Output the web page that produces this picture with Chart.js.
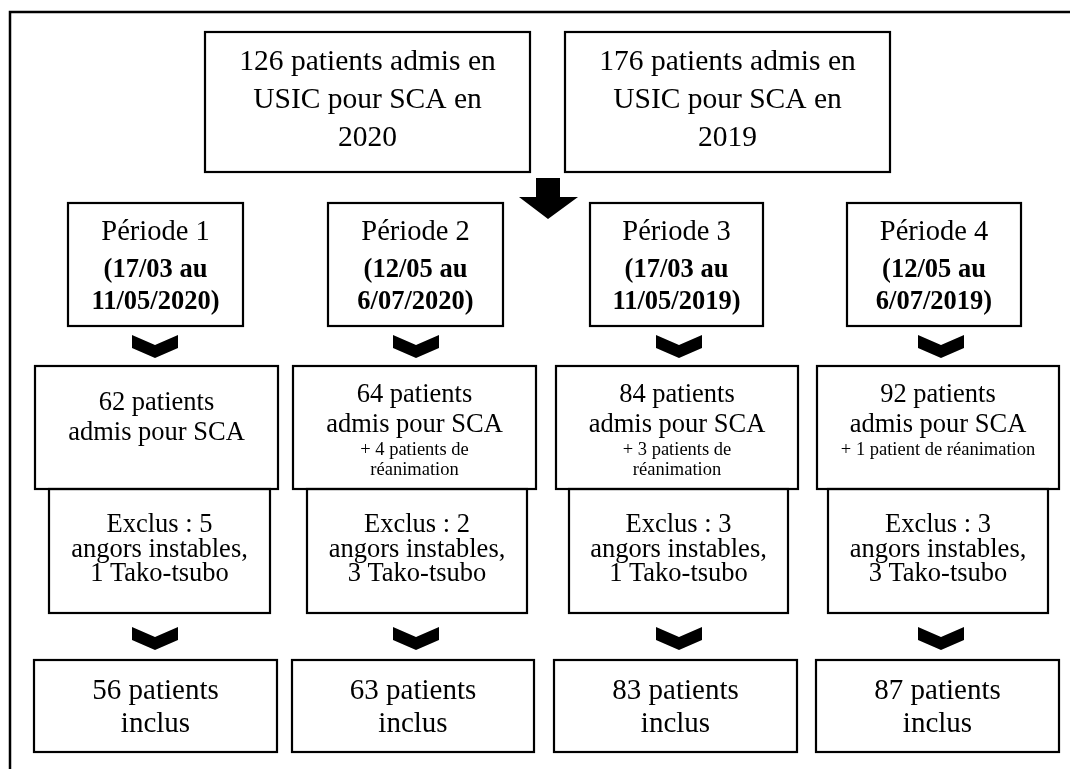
<!DOCTYPE html>
<html>
<head>
<meta charset="utf-8">
<script src="https://cdn.jsdelivr.net/npm/chart.js@4.4.1/dist/chart.umd.min.js"></script>
<style>
  html, body { margin: 0; padding: 0; background: #fff; }
  #chart { display: block; }
</style>
</head>
<body>
<canvas id="chart" width="1070" height="769"></canvas>
<script>
const years = ["2020", "2019"];
const yearTotals = [126, 176];
const periods = ["Période 1", "Période 2", "Période 3", "Période 4"];
const periodStart = ["17/03", "12/05", "17/03", "12/05"];
const periodEnd = ["11/05/2020", "6/07/2020", "11/05/2019", "6/07/2019"];
const admitted = [62, 64, 84, 92];
const icuExtra = [0, 4, 3, 1];
const excludedAngor = [5, 2, 3, 3];
const excludedTako = [1, 3, 1, 3];
const included = [56, 63, 83, 87];

// layout (chart units = pixels of the page)
const topBoxes = [[205, 530], [565, 890]];
const topRow = [32, 172];
const periodBoxes = [[68, 243], [328, 503], [590, 763], [847, 1021]];
const periodRow = [203, 326];
const admisBoxes = [[35, 278], [293, 536], [556, 798], [817, 1059]];
const admisRow = [366, 489];
const exclBoxes = [[49, 270], [307, 527], [569, 788], [828, 1048]];
const exclRow = [489, 613];
const inclBoxes = [[34, 277], [292, 534], [554, 797], [816, 1059]];
const inclRow = [660, 752];
const chevronX = [155, 416, 679, 941];
const chevronRows = [335, 627];

const serif = "'Liberation Serif', 'Times New Roman', serif";

function wrap(ctx, text, maxW) {
    const words = text.split(" ");
    const lines = [];
    let cur = "";
    words.forEach(w => {
        const t = cur ? cur + " " + w : w;
        if (cur && ctx.measureText(t).width > maxW) {
            lines.push(cur);
            cur = w;
        } else {
            cur = t;
        }
    });
    if (cur) lines.push(cur);
    return lines;
}

const flowPlugin = {
    id: "flow",
    afterDraw(chart) {
        const ctx = chart.ctx;
        const X = v => chart.scales.x.getPixelForValue(v);
        const Y = v => chart.scales.y.getPixelForValue(v);

        function box(xr, yr) {
            ctx.save();
            ctx.strokeStyle = "#000";
            ctx.lineWidth = 2.2;
            ctx.strokeRect(X(xr[0]), Y(yr[0]), X(xr[1]) - X(xr[0]), Y(yr[1]) - Y(yr[0]));
            ctx.restore();
        }
        function text(str, cx, cy, size, bold) {
            ctx.save();
            ctx.fillStyle = "#000";
            ctx.font = (bold ? "bold " : "") + size + "px " + serif;
            ctx.textAlign = "center";
            ctx.textBaseline = "middle";
            ctx.fillText(str, X(cx), Y(cy));
            ctx.restore();
        }
        function chevron(cx, top) {
            const w = 23, h = 23, t = 13;
            ctx.save();
            ctx.fillStyle = "#000";
            ctx.beginPath();
            ctx.moveTo(X(cx - w), Y(top));
            ctx.lineTo(X(cx), Y(top + h - t));
            ctx.lineTo(X(cx + w), Y(top));
            ctx.lineTo(X(cx + w), Y(top + t));
            ctx.lineTo(X(cx), Y(top + h));
            ctx.lineTo(X(cx - w), Y(top + t));
            ctx.closePath();
            ctx.fill();
            ctx.restore();
        }

        // outer frame (top and left edges)
        ctx.save();
        ctx.strokeStyle = "#000";
        ctx.lineWidth = 2.5;
        ctx.beginPath();
        ctx.moveTo(X(1070), Y(12));
        ctx.lineTo(X(10), Y(12));
        ctx.lineTo(X(10), Y(769));
        ctx.stroke();
        ctx.restore();

        // top boxes
        years.forEach((yr, i) => {
            const xr = topBoxes[i];
            const cx = (xr[0] + xr[1]) / 2;
            box(xr, topRow);
            text(yearTotals[i] + " patients admis en", cx, topRow[0] + 30, 29.5);
            text("USIC pour SCA en", cx, topRow[0] + 68, 29.5);
            text(yr, cx, topRow[0] + 106, 29.5);
        });

        // big arrow
        ctx.save();
        ctx.fillStyle = "#000";
        ctx.beginPath();
        ctx.moveTo(X(536), Y(178));
        ctx.lineTo(X(560), Y(178));
        ctx.lineTo(X(560), Y(197));
        ctx.lineTo(X(578), Y(197));
        ctx.lineTo(X(548), Y(219));
        ctx.lineTo(X(519), Y(197));
        ctx.lineTo(X(536), Y(197));
        ctx.closePath();
        ctx.fill();
        ctx.restore();

        periods.forEach((p, i) => {
            // period box
            let xr = periodBoxes[i];
            let cx = (xr[0] + xr[1]) / 2;
            box(xr, periodRow);
            text(p, cx, periodRow[0] + 30, 28.5);
            text("(" + periodStart[i] + " au", cx, periodRow[0] + 67, 26.5, true);
            text(periodEnd[i] + ")", cx, periodRow[0] + 99, 26.5, true);

            chevron(chevronX[i], chevronRows[0]);

            // admitted box
            xr = admisBoxes[i];
            cx = (xr[0] + xr[1]) / 2;
            box(xr, admisRow);
            if (icuExtra[i] > 0) {
                text(admitted[i] + " patients", cx, admisRow[0] + 29, 26.5);
                text("admis pour SCA", cx, admisRow[0] + 59, 26.5);
                ctx.font = "18.5px " + serif;
                const extra = "+ " + icuExtra[i] + (icuExtra[i] > 1 ? " patients" : " patient") + " de réanimation";
                wrap(ctx, extra, 198).forEach((ln, k) => {
                    text(ln, cx, admisRow[0] + 84 + k * 20, 18.5);
                });
            } else {
                text(admitted[i] + " patients", cx, admisRow[0] + 37, 26.5);
                text("admis pour SCA", cx, admisRow[0] + 67, 26.5);
            }

            // excluded box
            xr = exclBoxes[i];
            cx = (xr[0] + xr[1]) / 2;
            box(xr, exclRow);
            text("Exclus : " + excludedAngor[i], cx, exclRow[0] + 36, 26.5);
            text("angors instables,", cx, exclRow[0] + 61, 26.5);
            text(excludedTako[i] + " Tako-tsubo", cx, exclRow[0] + 85, 26.5);

            chevron(chevronX[i], chevronRows[1]);

            // included box
            xr = inclBoxes[i];
            cx = (xr[0] + xr[1]) / 2;
            box(xr, inclRow);
            text(included[i] + " patients", cx, inclRow[0] + 31, 29);
            text("inclus", cx, inclRow[0] + 64, 29);
        });
    }
};

new Chart(document.getElementById("chart"), {
    type: "scatter",
    data: { datasets: [] },
    options: {
        responsive: false,
        animation: false,
        layout: { padding: 0 },
        plugins: { legend: { display: false }, tooltip: { enabled: false } },
        scales: {
            x: { type: "linear", min: 0, max: 1070, display: false },
            y: { type: "linear", min: 0, max: 769, reverse: true, display: false }
        }
    },
    plugins: [flowPlugin]
});
</script>
</body>
</html>
